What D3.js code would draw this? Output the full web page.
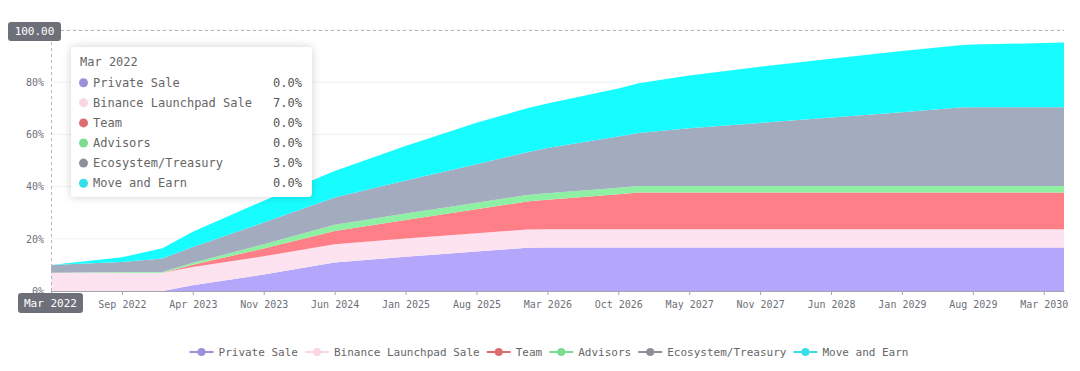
<!DOCTYPE html>
<html>
<head>
<meta charset="utf-8">
<script src="https://cdn.jsdelivr.net/npm/d3@7"></script>
<style>
  html, body { margin: 0; padding: 0; background: #fff; }
  svg { display: block; font-family: "DejaVu Sans Mono", monospace; }
</style>
</head>
<body>
<div id="chart"></div>
<script>
const periods = [0, 7, 11, 14, 21, 28, 35, 42, 47, 49, 56, 58, 63, 70, 77, 84, 90, 91, 98, 100];
const tickPeriods = [0, 7, 14, 21, 28, 35, 42, 49, 56, 63, 70, 77, 84, 91, 98];
const tickLabels = ["Mar 2022", "Sep 2022", "Apr 2023", "Nov 2023", "Jun 2024", "Jan 2025", "Aug 2025",
  "Mar 2026", "Oct 2026", "May 2027", "Nov 2027", "Jun 2028", "Jan 2029", "Aug 2029", "Mar 2030"];
const yTicks = [0, 20, 40, 60, 80, 100];

const seriesNames = ["Private Sale", "Binance Launchpad Sale", "Team", "Advisors", "Ecosystem/Treasury", "Move and Earn"];
const privateSale = [0, 0, 0, 2.2, 6.3, 10.9, 13.1, 15.1, 16.6, 16.7, 16.7, 16.7, 16.7, 16.7, 16.7, 16.7, 16.7, 16.7, 16.7, 16.7];
const binance = [7, 7, 7, 7, 7, 7, 7, 7, 7, 7, 7, 7, 7, 7, 7, 7, 7, 7, 7, 7];
const team = [0, 0, 0, 0.9, 3.0, 5.1, 7.1, 9.2, 10.7, 11.3, 13.4, 14, 14, 14, 14, 14, 14, 14, 14, 14];
const advisors = [0, 0.3, 0.3, 0.7, 1.6, 2.4, 2.5, 2.5, 2.5, 2.5, 2.5, 2.5, 2.5, 2.5, 2.5, 2.5, 2.5, 2.5, 2.5, 2.5];
const ecosystem = [3, 3.8, 5.2, 6.1, 8.3, 10.4, 12.6, 14.8, 16.4, 17.3, 19.6, 20.3, 22.2, 24.2, 26.3, 28.3, 30.2, 30.2, 30.2, 30.2];
const moveEarn = [0, 1.8, 3.9, 5.8, 8.4, 10.2, 13.3, 15.9, 16.8, 17.0, 18.4, 19.1, 20.2, 21.5, 22.5, 23.5, 23.9, 24.0, 24.6, 24.8];

const areaColors = ["#b3a6fb", "#fde3ef", "#fe7f87", "#8ef0a2", "#a3abbe", "#17fdff"];
const dotColors = ["#9c90dc", "#f8d6e2", "#dd6b72", "#7ddc90", "#8d8f9a", "#34dfe8"];

const width = 1080, height = 371;
const allSeries = [privateSale, binance, team, advisors, ecosystem, moveEarn];
const rows = periods.map((p, i) => {
  const r = { period: p };
  seriesNames.forEach((n, k) => r[n] = allSeries[k][i]);
  return r;
});

const svg = d3.select("#chart").append("svg")
  .attr("width", width).attr("height", height);

svg.append("rect").attr("width", width).attr("height", height).attr("fill", "#fff");

const x = d3.scaleLinear().domain([0, 100]).range([51, 1064]);
const y = d3.scaleLinear().domain([0, 100]).range([291, 30]);

// grid
svg.append("g").selectAll("line")
  .data(yTicks.filter(d => d > 0))
  .join("line")
  .attr("x1", 51).attr("x2", 1064)
  .attr("y1", d => y(d)).attr("y2", d => y(d))
  .attr("stroke", "#f0f1f5").attr("stroke-width", 1);

// stacked areas
const stack = d3.stack().keys(seriesNames);
const layers = stack(rows);
const area = d3.area()
  .x(d => x(d.data.period))
  .y0(d => y(d[0]))
  .y1(d => y(d[1]));

svg.append("g").selectAll("path")
  .data(layers)
  .join("path")
  .attr("d", area)
  .attr("fill", (d, i) => areaColors[i]);

// y axis (100% label sits under the pointer label, so it is left out)
const yAxis = svg.append("g")
  .attr("transform", "translate(51,0)")
  .call(d3.axisLeft(y).tickValues(yTicks.slice(0, -1)).tickFormat(d => d + "%").tickSize(0).tickPadding(7));
yAxis.select(".domain").remove();
yAxis.selectAll("text").attr("fill", "#6e7079").attr("font-size", 10)
  .attr("font-family", "DejaVu Sans Mono, monospace");

// x axis (first label is covered by the pointer label)
const xAxis = svg.append("g")
  .attr("transform", "translate(0,291)")
  .call(d3.axisBottom(x).tickValues(tickPeriods).tickFormat((d, i) => i === 0 ? "" : tickLabels[i]).tickSize(4).tickPadding(6).tickSizeOuter(0));
xAxis.select(".domain").attr("stroke", "#a4a4b0");
xAxis.selectAll(".tick line").attr("stroke", "#a4a4b0");
xAxis.selectAll("text").attr("fill", "#6e7079").attr("font-size", 10)
  .attr("font-family", "DejaVu Sans Mono, monospace");

// crosshair
svg.append("line").attr("x1", 61).attr("x2", 1064).attr("y1", 30.5).attr("y2", 30.5)
  .attr("stroke", "#b4b4bc").attr("stroke-dasharray", "3,3");
svg.append("line").attr("x1", 51.5).attr("x2", 51.5).attr("y1", 30).attr("y2", 291)
  .attr("stroke", "#b4b4bc").attr("stroke-dasharray", "3,3");

function pointerLabel(cx, cy, w, h, txt) {
  svg.append("rect").attr("x", cx - w / 2).attr("y", cy - h / 2).attr("width", w).attr("height", h)
    .attr("rx", 3).attr("fill", "#6e7079");
  svg.append("text").attr("x", cx).attr("y", cy).attr("dy", "0.35em")
    .attr("text-anchor", "middle").attr("fill", "#fff").attr("font-size", 11).text(txt);
}
pointerLabel(34.5, 31.5, 53, 19, "100.00");
pointerLabel(50.5, 303, 65, 20, tickLabels[0]);

// tooltip
const defs = svg.append("defs");
const f = defs.append("filter").attr("id", "shadow").attr("x", "-20%").attr("y", "-20%")
  .attr("width", "140%").attr("height", "140%");
f.append("feDropShadow").attr("dx", 0).attr("dy", 0).attr("stdDeviation", 4)
  .attr("flood-color", "#000").attr("flood-opacity", 0.18);

const tip = svg.append("g").attr("transform", "translate(71,47)");
tip.append("rect").attr("width", 241).attr("height", 150).attr("rx", 4)
  .attr("fill", "#fff").attr("filter", "url(#shadow)");
tip.append("text").attr("x", 9).attr("y", 15).attr("dy", "0.35em")
  .attr("font-size", 12).attr("fill", "#666").text(tickLabels[0]);
const tipRows = tip.selectAll("g.row").data(seriesNames).join("g")
  .attr("class", "row")
  .attr("transform", (d, i) => `translate(0,${35.7 + i * 20.1})`);
tipRows.append("circle").attr("cx", 12.5).attr("cy", 0).attr("r", 4.5)
  .attr("fill", (d, i) => dotColors[i]);
tipRows.append("text").attr("x", 22).attr("dy", "0.35em").attr("font-size", 12)
  .attr("fill", "#666").text(d => d);
tipRows.append("text").attr("x", 231).attr("dy", "0.35em").attr("text-anchor", "end")
  .attr("font-size", 12).attr("fill", "#555")
  .text((d, i) => allSeries[i][0].toFixed(1) + "%");

// legend
const legend = svg.append("g").attr("transform", "translate(0,352)");
const items = legend.selectAll("g").data(seriesNames).join("g");
items.append("line").attr("x1", 0).attr("x2", 24).attr("y1", 0).attr("y2", 0)
  .attr("stroke", (d, i) => dotColors[i]).attr("stroke-width", 2);
items.append("circle").attr("cx", 12).attr("cy", 0).attr("r", 4)
  .attr("fill", (d, i) => dotColors[i]);
items.append("text").attr("x", 29).attr("dy", "0.35em").attr("font-size", 11)
  .attr("fill", "#666").text(d => d);

const widths = [];
items.each(function () { widths.push(29 + d3.select(this).select("text").node().getComputedTextLength()); });
const gap = 7;
const total = d3.sum(widths) + gap * (widths.length - 1);
let cur = 549 - total / 2;
items.attr("transform", (d, i) => { const t = `translate(${cur},0)`; cur += widths[i] + gap; return t; });
</script>
</body>
</html>
